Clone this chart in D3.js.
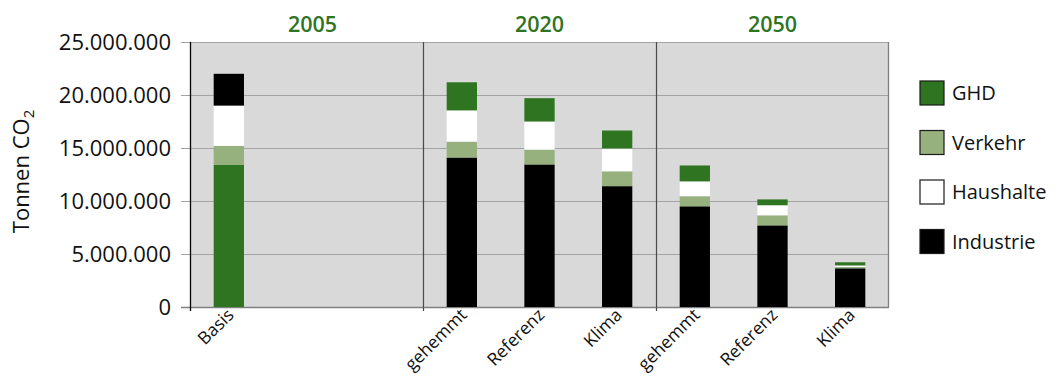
<!DOCTYPE html>
<html>
<head>
<meta charset="utf-8">
<script src="https://cdn.jsdelivr.net/npm/d3@7"></script>
<style>
  body { margin: 0; background: #fff; }
  text { font-family: "Open Sans", "Noto Sans", sans-serif; fill: #111; }
</style>
</head>
<body>
<div id="chart"></div>
<script>
// slots on the x axis, two of them left empty after Basis
const slots = ["basis", "e1", "e2", "g20", "r20", "k20", "g50", "r50", "k50"];
const barIds = ["basis", "g20", "r20", "k20", "g50", "r50", "k50"];
const barLabels = ["Basis", "gehemmt", "Referenz", "Klima", "gehemmt", "Referenz", "Klima"];
const years = ["2005", "2020", "2050"];
const yearSlots = [["basis", "e2"], ["g20", "k20"], ["g50", "k50"]];

// values in Mio. t CO2
const industrie = [13.4, 14.1, 13.45, 11.4, 9.5, 7.7, 3.65];
const verkehr = [1.8, 1.5, 1.4, 1.4, 0.95, 0.95, 0.12];
const haushalte = [3.8, 2.95, 2.65, 2.15, 1.4, 0.95, 0.15];
const ghd = [3.0, 2.65, 2.2, 1.7, 1.5, 0.55, 0.3];

const seriesNames = ["Industrie", "Verkehr", "Haushalte", "GHD"];
const colors = {Industrie: "#000000", Verkehr: "#96b07e", Haushalte: "#ffffff", GHD: "#2e7421"};
const yTicks = [0, 5e6, 10e6, 15e6, 20e6, 25e6];

const W = 1054, H = 384;
const margin = {top: 42, right: 165, bottom: 77, left: 190};
const width = W - margin.left - margin.right;
const height = H - margin.top - margin.bottom;

const svg = d3.select("#chart").append("svg")
  .attr("width", W).attr("height", H);
const g = svg.append("g")
  .attr("transform", "translate(" + margin.left + "," + margin.top + ")");

const rows = barIds.map((id, i) => ({
  id: id,
  Industrie: industrie[i] * 1e6,
  Verkehr: verkehr[i] * 1e6,
  Haushalte: haushalte[i] * 1e6,
  GHD: ghd[i] * 1e6
}));

const x = d3.scaleBand().domain(slots).range([0, width]).paddingInner(0.61).paddingOuter(0.305);
const y = d3.scaleLinear().domain([0, 25e6]).range([height, 0]);

// plot background
g.append("rect").attr("width", width).attr("height", height).attr("fill", "#d9d9d9");

// gridlines + ticks
g.selectAll(".grid").data(yTicks).enter().append("line")
  .attr("x1", -9).attr("x2", width)
  .attr("y1", d => y(d) + 0.5).attr("y2", d => y(d) + 0.5)
  .attr("stroke", d => d === 0 ? "#808080" : "#a3a3a3").attr("stroke-width", d => d === 0 ? 1.5 : 1.2);

const fmt = d3.formatLocale({decimal: ",", thousands: ".", grouping: [3], currency: ["", "€"]}).format(",d");
g.selectAll(".ylab").data(yTicks).enter().append("text")
  .attr("x", -19).attr("y", d => y(d)).attr("dy", "0.36em")
  .attr("text-anchor", "end").style("font-size", "22px")
  .text(d => fmt(d));

// stacked bars
const stack = d3.stack().keys(seriesNames);
const layers = stack(rows);
g.selectAll(".layer").data(layers).enter().append("g")
  .each(function(layer) {
    d3.select(this).selectAll("rect").data(layer).enter().append("rect")
      .attr("x", d => x(d.data.id))
      .attr("width", x.bandwidth())
      .attr("y", d => y(d[1]))
      .attr("height", d => y(d[0]) - y(d[1]))
      .attr("fill", d => {
        // in the original the Basis bar has Industrie and GHD colours swapped
        if (d.data.id === "basis" && layer.key === "Industrie") return colors.GHD;
        if (d.data.id === "basis" && layer.key === "GHD") return colors.Industrie;
        return colors[layer.key];
      });
  });

// group separators
const sepX = [x("g20") - x.step() * 0.305, x("g50") - x.step() * 0.305];
g.selectAll(".sep").data(sepX).enter().append("line")
  .attr("x1", d => Math.round(d) + 0.5).attr("x2", d => Math.round(d) + 0.5)
  .attr("y1", 0).attr("y2", height + 4)
  .attr("stroke", "#4a4a4a").attr("stroke-width", 1.2);

// frame
g.append("line").attr("x1", 0.5).attr("x2", 0.5).attr("y1", 0).attr("y2", height + 4)
  .attr("stroke", "#000").attr("stroke-width", 1.3);
g.append("line").attr("x1", width - 0.5).attr("x2", width - 0.5).attr("y1", 0).attr("y2", height)
  .attr("stroke", "#808080").attr("stroke-width", 1.3);

// category labels
g.selectAll(".xlab").data(barIds).enter().append("text")
  .attr("transform", d => "translate(" + (x(d) + x.bandwidth() / 2 + 6) + "," + (height + 9) + ") rotate(-45)")
  .attr("text-anchor", "end").style("font-size", "17.5px")
  .text((d, i) => barLabels[i]);

// year labels
g.selectAll(".year").data(years).enter().append("text")
  .attr("x", (d, i) => {
    const a = x(yearSlots[i][0]) - x.step() * 0.305;
    const b = x(yearSlots[i][1]) + x.bandwidth() + x.step() * 0.305;
    return (a + b) / 2 + (i === 0 ? 6 : 0);
  })
  .attr("y", -10).attr("text-anchor", "middle")
  .style("font-size", "21.5px").style("font-weight", "600").style("fill", "#2e7421")
  .text(d => d);

// y axis title
const yt = svg.append("text")
  .attr("transform", "translate(29," + (margin.top + height / 2 - 3) + ") rotate(-90)")
  .attr("text-anchor", "middle").style("font-size", "22px");
yt.append("tspan").text("Tonnen CO");
yt.append("tspan").attr("dy", "0.3em").style("font-size", "15px").text("2");

// legend
const legend = svg.append("g").attr("transform", "translate(920,81)");
const legendOrder = ["GHD", "Verkehr", "Haushalte", "Industrie"];
const li = legend.selectAll(".li").data(legendOrder).enter().append("g")
  .attr("transform", (d, i) => "translate(0," + (i * 49.5) + ")");
li.append("rect").attr("width", 24).attr("height", 24)
  .attr("fill", d => colors[d]).attr("stroke", "#1a1a1a").attr("stroke-width", 1.2);
li.append("text").attr("x", 32).attr("y", 12).attr("dy", "0.36em")
  .style("font-size", "20px").text(d => d);
</script>
</body>
</html>
